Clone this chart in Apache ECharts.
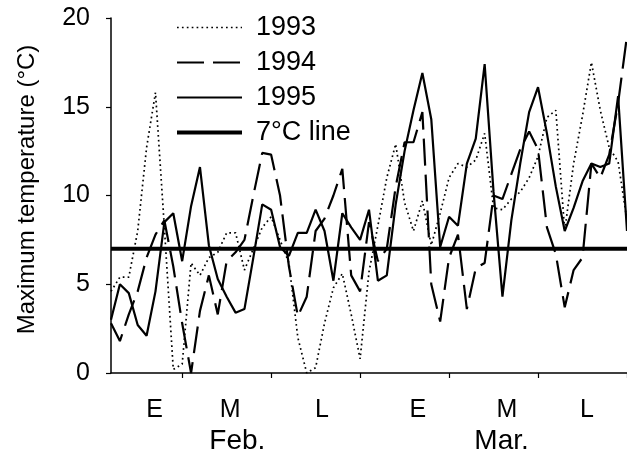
<!DOCTYPE html>
<html><head><meta charset="utf-8">
<script src="https://cdn.jsdelivr.net/npm/echarts@6/dist/echarts.min.js"></script>
<style>html,body{margin:0;padding:0;background:#fff}#c{width:627px;height:462px}</style>
</head><body><div id="c"></div>
<script>
// Daily maximum temperature (°C), Feb + Mar (59 days)
const yr1993 = [4.6, 5.4, 5.4, 8.0, 12.7, 15.8, 8.2, 0.2, 0.5, 6.2,
  5.5, 6.5, 6.8, 7.9, 7.9, 5.8, 7.0, 8.2, 8.8, 7.5,
  6.2, 2.0, 0.0, 0.3, 2.8, 4.8, 5.6, 3.3, 0.8, 5.7,
  8.3, 11.0, 12.9, 9.6, 8.0, 9.7, 7.2, 9.0, 11.0, 11.8,
  11.6, 12.0, 13.5, 9.3, 9.2, 9.8, 10.2, 11.0, 12.2, 14.4,
  14.8, 8.0, 11.8, 14.5, 17.5, 14.8, 12.7, 11.9, 8.6];
const yr1994 = [2.8, 1.8, 3.3, 4.6, 6.5, 7.8, 8.6, 6.0, 2.8, 0.0,
  3.5, 5.5, 3.3, 6.3, 6.8, 7.5, 10.0, 12.4, 12.3, 10.0,
  6.0, 3.2, 4.3, 8.0, 8.7, 10.0, 11.5, 5.5, 4.6, 8.5,
  6.3, 7.0, 10.5, 13.0, 13.0, 14.7, 5.0, 2.9, 6.5, 7.8,
  3.6, 5.9, 6.2, 10.0, 9.8, 11.2, 12.6, 13.6, 12.6, 8.2,
  6.7, 3.7, 5.8, 6.5, 11.8, 11.0, 12.3, 15.2, 19.0];
const yr1995 = [3.0, 5.0, 4.5, 2.7, 2.1, 4.6, 8.5, 9.0, 6.3, 9.4,
  11.6, 7.2, 5.3, 4.3, 3.4, 3.6, 6.5, 9.5, 9.2, 7.1,
  6.6, 7.9, 7.9, 9.2, 8.0, 5.2, 9.0, 8.2, 7.5, 9.2,
  5.2, 5.5, 9.5, 12.5, 14.8, 16.9, 14.3, 7.1, 8.8, 8.3,
  11.8, 13.2, 17.4, 10.2, 4.3, 8.6, 11.8, 14.7, 16.1, 13.5,
  10.5, 8.0, 9.3, 10.8, 11.8, 11.6, 11.8, 15.6, 8.0];
const threshold = 7;
const seriesNames = ['1993', '1994', '1995', '7°C line'];
const periodLabels = ['E', 'M', 'L', 'E', 'M', 'L'];
const monthLabels = ['Feb.', 'Mar.'];
const yTickLabels = ['0', '5', '10', '15', '20'];

// layout (positions along the day axis)
const tickPos = [8, 18, 28, 38, 48, 58];
const periodPos = [4.9, 13.4, 23.7, 34.5, 44.5, 53.5];
const monthPos = [14.2, 43.9];

const FONT = 'Liberation Sans, Arial, Helvetica, sans-serif';
const toPairs = arr => arr.map((v, i) => [i, v]);

const chart = echarts.init(document.getElementById('c'), null, {renderer: 'canvas'});
const lineStyles = [
  {color: '#000', width: 1.7, type: [1.7, 3.2]},
  {color: '#000', width: 2.2, type: [27, 9]},
  {color: '#000', width: 2.2, type: 'solid'},
  {color: '#000', width: 4, type: 'solid'}
];
const datasets = [yr1993, yr1994, yr1995, yr1993.map(() => threshold)];

chart.setOption({
  animation: false,
  backgroundColor: '#fff',
  textStyle: {fontFamily: FONT, color: '#000'},
  grid: {left: 111, right: 0, top: 18, bottom: 89, containLabel: false},
  legend: {
    orient: 'vertical', left: 175, top: 14, padding: 0,
    itemWidth: 65, itemHeight: 20, itemGap: 8,
    textStyle: {fontSize: 27, lineHeight: 27, fontFamily: FONT, color: '#000', padding: [0, 0, 0, 9]},
    data: seriesNames.map((n, k) => ({
      name: n, lineStyle: lineStyles[k],
      itemStyle: {color: 'rgba(0,0,0,0)', borderWidth: 0, opacity: 0}
    }))
  },
  xAxis: [{
    type: 'value', min: 0, max: 58,
    axisLine: {show: true, onZero: false, lineStyle: {color: '#000', width: 1.5}},
    axisTick: {show: true, length: 5, customValues: tickPos, lineStyle: {color: '#000', width: 1.2}},
    axisLabel: {
      customValues: periodPos, margin: 25, fontSize: 25, color: '#000', fontFamily: FONT,
      formatter: v => { const k = periodPos.indexOf(v); return k >= 0 ? periodLabels[k] : ''; }
    },
    splitLine: {show: false}
  }, {
    type: 'value', min: 0, max: 58, position: 'bottom',
    axisLine: {show: false}, axisTick: {show: false},
    axisLabel: {
      customValues: monthPos, margin: 54, fontSize: 28, color: '#000', fontFamily: FONT,
      formatter: v => { const k = monthPos.indexOf(v); return k >= 0 ? monthLabels[k] : ''; }
    },
    splitLine: {show: false}
  }],
  yAxis: {
    type: 'value', min: 0, max: 20, interval: 5,
    name: 'Maximum temperature (°C)', nameLocation: 'middle', nameGap: 72,
    nameTextStyle: {fontSize: 24, color: '#000', fontFamily: FONT, padding: [0, 0, 0, 12]},
    axisLine: {show: true, lineStyle: {color: '#000', width: 1.5}},
    axisTick: {show: true, length: 5, lineStyle: {color: '#000', width: 1.2}},
    axisLabel: {margin: 21, fontSize: 25, color: '#000', fontFamily: FONT,
      formatter: v => yTickLabels[v / 5]},
    splitLine: {show: false}
  },
  series: seriesNames.map((n, k) => ({
    name: n, type: 'line', xAxisIndex: 0, symbol: 'none', silent: true,
    z: k === 3 ? 5 : 2,
    lineStyle: lineStyles[k],
    itemStyle: {color: '#000'},
    data: toPairs(datasets[k])
  }))
});
</script></body></html>
